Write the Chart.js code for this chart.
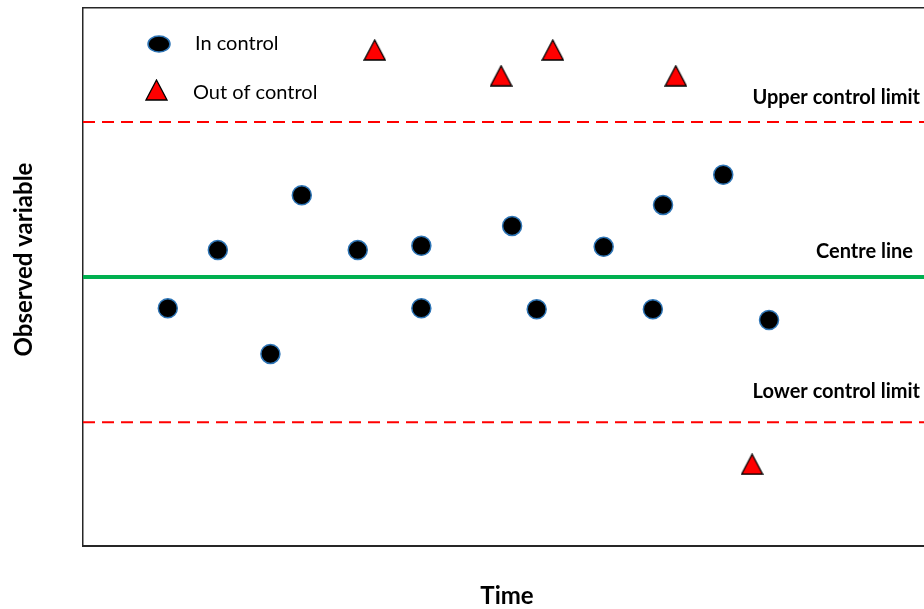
<!DOCTYPE html>
<html>
<head>
<meta charset="utf-8">
<script src="https://cdn.jsdelivr.net/npm/chart.js@4.4.0/dist/chart.umd.min.js"></script>
<style>
  html, body { margin: 0; padding: 0; background: #fff; overflow: hidden; }
  #wrap { width: 931px; height: 609px; }
</style>
</head>
<body>
<div id="wrap"><canvas id="chart" width="931" height="609"></canvas></div>
<script>
// Data (x = time position, y = observed value, both on a 0-100 scale)
const inControlX = [10.0, 15.9, 22.1, 25.8, 32.4, 39.9, 39.9, 50.6, 53.5, 61.4, 67.2, 68.4, 75.5, 80.9];
const inControlY = [44.2, 55.0, 35.7, 65.2, 55.0, 55.8, 44.2, 59.5, 44.0, 55.6, 44.0, 63.4, 69.0, 42.0];
const outControlX = [34.4, 49.3, 55.4, 69.9, 78.9];
const outControlY = [92.2, 87.4, 92.2, 87.4, 15.2];
const centreLine = 50.0;
const upperLimit = 78.8;
const lowerLimit = 23.0;
const timeRange = [0, 100];
const lineLabels = ['Upper control limit', 'Centre line', 'Lower control limit'];
const legendLabels = ['In control', 'Out of control'];

const FONT = 'Lato, "Open Sans", sans-serif';

// triangle marker as an image so it's as tall as it is wide
function makeTriangle() {
    const c = document.createElement('canvas');
    c.width = 23; c.height = 22;
    const g = c.getContext('2d');
    g.beginPath();
    g.moveTo(11.5, 1);
    g.lineTo(22, 21);
    g.lineTo(1, 21);
    g.closePath();
    g.fillStyle = '#ff0000';
    g.fill();
    g.lineWidth = 1.3;
    g.strokeStyle = '#000';
    g.stroke();
    return c;
}
const triangle = makeTriangle();

const toPts = (xs, ys) => xs.map((x, i) => ({ x: x, y: ys[i] }));
const hLine = v => [{ x: timeRange[0], y: v }, { x: timeRange[1], y: v }];

// Labels for the control lines + legend box
const annotate = {
    id: 'annotate',
    afterDatasetsDraw(chart) {
        const ctx = chart.ctx;
        const ys = chart.scales.y;
        ctx.save();
        ctx.fillStyle = '#000';
        ctx.font = 'bold 20px ' + FONT;
        ctx.textAlign = 'right';
        ctx.textBaseline = 'alphabetic';
        ctx.fillText(lineLabels[0], 920, ys.getPixelForValue(upperLimit) - 18);
        ctx.fillText(lineLabels[1], 913, ys.getPixelForValue(centreLine) - 19);
        ctx.fillText(lineLabels[2], 920, ys.getPixelForValue(lowerLimit) - 24);

        // legend
        ctx.beginPath();
        ctx.ellipse(159, 44, 11, 8, 0, 0, Math.PI * 2);
        ctx.fillStyle = '#000';
        ctx.fill();
        ctx.lineWidth = 1.5;
        ctx.strokeStyle = '#2e75b6';
        ctx.stroke();
        ctx.drawImage(triangle, 145, 79);
        ctx.fillStyle = '#000';
        ctx.font = '20px ' + FONT;
        ctx.textAlign = 'left';
        ctx.fillText(legendLabels[0], 195, 50);
        ctx.fillText(legendLabels[1], 193, 99);
        ctx.restore();
    }
};

new Chart(document.getElementById('chart'), {
    type: 'scatter',
    data: {
        datasets: [
            { label: 'UCL', type: 'line', data: hLine(upperLimit), borderColor: '#ff0000', borderWidth: 2, borderDash: [12, 7], pointRadius: 0 },
            { label: 'LCL', type: 'line', data: hLine(lowerLimit), borderColor: '#ff0000', borderWidth: 2, borderDash: [12, 7], pointRadius: 0 },
            { label: 'Centre', type: 'line', data: hLine(centreLine), borderColor: '#00b050', borderWidth: 4, pointRadius: 0 },
            { label: legendLabels[0], data: toPts(inControlX, inControlY), backgroundColor: '#000', borderColor: '#2e75b6', borderWidth: 1.5, pointRadius: 9.5 },
            { label: legendLabels[1], data: toPts(outControlX, outControlY), pointStyle: triangle }
        ]
    },
    options: {
        responsive: false,
        animation: false,
        events: [],
        layout: { autoPadding: false, padding: { left: 0, right: 0, top: 8, bottom: 0 } },
        plugins: { legend: { display: false }, tooltip: { enabled: false } },
        scales: {
            x: {
                type: 'linear', min: timeRange[0], max: timeRange[1],
                ticks: { display: false },
                grid: { display: false, drawTicks: false },
                border: { display: true, color: '#262626', width: 2 },
                title: { display: true, text: 'Time', color: '#000', font: { family: FONT, size: 24, weight: 'bold', lineHeight: 1 }, padding: { top: 38, bottom: 1 } }
            },
            x2: {
                type: 'linear', position: 'top', min: timeRange[0], max: timeRange[1],
                ticks: { display: false },
                grid: { display: false, drawTicks: false },
                border: { display: true, color: '#262626', width: 1.5 }
            },
            y: {
                min: 0, max: 100,
                ticks: { display: false },
                grid: { display: false, drawTicks: false },
                border: { display: true, color: '#262626', width: 1.5 },
                // leading spaces nudge the title up a bit, like the original
                title: { display: true, text: '      Observed variable', color: '#000', font: { family: FONT, size: 24, weight: 'bold', lineHeight: 1 }, padding: { top: 12.5, bottom: 46.5 } }
            }
        }
    },
    plugins: [annotate]
});
</script>
</body>
</html>
